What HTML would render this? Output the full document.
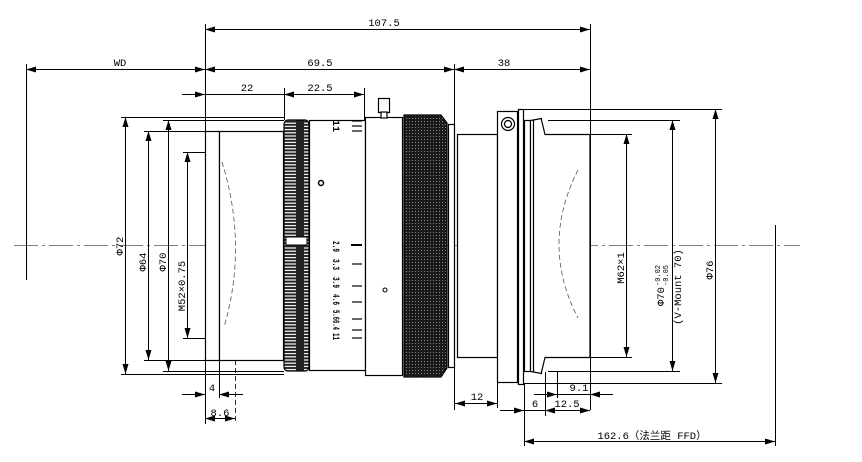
<!DOCTYPE html>
<html><head><meta charset="utf-8"><style>
html,body{margin:0;padding:0;background:#fff;}
svg{display:block;}
text{font-family:"Liberation Mono","Noto Sans CJK SC",monospace;font-size:10.5px;fill:#000;}
</style></head><body>
<svg width="862" height="462" viewBox="0 0 862 462" xmlns="http://www.w3.org/2000/svg">
<defs>
<marker id="a" viewBox="0 0 10 6" refX="10" refY="3" markerWidth="10" markerHeight="6" orient="auto-start-reverse" markerUnits="userSpaceOnUse"><path d="M0,0L10,3L0,6z" fill="#000"/></marker>
<pattern id="k1" width="25" height="3.2" patternUnits="userSpaceOnUse"><rect width="25" height="3.2" fill="#222"/><rect x="4" y="1" width="17" height="1.2" fill="#fff"/></pattern>
<pattern id="k2" width="3" height="3" patternUnits="userSpaceOnUse"><rect width="3" height="3" fill="#1a1a1a"/><rect x="1" y="1" width="1" height="1" fill="#888"/></pattern>
</defs>
<g stroke="#000" fill="none" stroke-width="1">
<line x1="14" y1="245.5" x2="800" y2="245.5" stroke="#555" stroke-dasharray="24,4,3,4" stroke-width="0.8"/>
<line x1="205.5" y1="24" x2="205.5" y2="424"/>
<line x1="590.5" y1="24" x2="590.5" y2="410"/>
<line x1="454.5" y1="64" x2="454.5" y2="410"/>
<line x1="26.5" y1="64" x2="26.5" y2="280"/>
<line x1="284.5" y1="88" x2="284.5" y2="120"/>
<line x1="364.5" y1="88" x2="364.5" y2="120"/>
<line x1="219.5" y1="360" x2="219.5" y2="398"/>
<line x1="235.5" y1="160" x2="235.5" y2="424" stroke-dasharray="5,3" stroke-width="0.8"/>
<line x1="497.5" y1="383" x2="497.5" y2="408"/>
<line x1="524.5" y1="384" x2="524.5" y2="446"/>
<line x1="545.5" y1="372" x2="545.5" y2="416"/>
<line x1="557.5" y1="372" x2="557.5" y2="398"/>
<line x1="775.5" y1="225" x2="775.5" y2="446"/>
<line x1="205" y1="29.5" x2="590" y2="29.5" marker-start="url(#a)" marker-end="url(#a)"/>
<line x1="26" y1="69.5" x2="205" y2="69.5" marker-start="url(#a)" marker-end="url(#a)"/>
<line x1="205" y1="69.5" x2="454" y2="69.5" marker-start="url(#a)" marker-end="url(#a)"/>
<line x1="454" y1="69.5" x2="590" y2="69.5" marker-start="url(#a)" marker-end="url(#a)"/>
<line x1="182" y1="94.5" x2="205" y2="94.5" marker-end="url(#a)"/>
<line x1="205" y1="94.5" x2="284" y2="94.5"/>
<line x1="284" y1="94.5" x2="364" y2="94.5" marker-start="url(#a)" marker-end="url(#a)"/>
<line x1="121" y1="117.5" x2="284" y2="117.5"/>
<line x1="121" y1="374.5" x2="284" y2="374.5"/>
<line x1="163" y1="120.5" x2="284" y2="120.5"/>
<line x1="163" y1="371.5" x2="284" y2="371.5"/>
<line x1="144" y1="131.5" x2="205" y2="131.5"/>
<line x1="144" y1="360.5" x2="205" y2="360.5"/>
<line x1="183" y1="152.5" x2="218" y2="152.5"/>
<line x1="183" y1="338.5" x2="218" y2="338.5"/>
<line x1="125.5" y1="117" x2="125.5" y2="374" marker-start="url(#a)" marker-end="url(#a)"/>
<line x1="148.5" y1="131" x2="148.5" y2="360" marker-start="url(#a)" marker-end="url(#a)"/>
<line x1="168.5" y1="120" x2="168.5" y2="371" marker-start="url(#a)" marker-end="url(#a)"/>
<line x1="187.5" y1="152" x2="187.5" y2="338" marker-start="url(#a)" marker-end="url(#a)"/>
<line x1="182" y1="394.5" x2="205" y2="394.5" marker-end="url(#a)"/>
<line x1="243" y1="394.5" x2="219" y2="394.5" marker-end="url(#a)"/>
<line x1="205" y1="418.5" x2="235" y2="418.5" marker-start="url(#a)" marker-end="url(#a)"/>
<line x1="455" y1="403.5" x2="497" y2="403.5" marker-start="url(#a)" marker-end="url(#a)"/>
<line x1="500" y1="410.5" x2="524" y2="410.5" marker-end="url(#a)"/>
<line x1="524" y1="410.5" x2="545" y2="410.5"/>
<line x1="545" y1="410.5" x2="590" y2="410.5" marker-start="url(#a)" marker-end="url(#a)"/>
<line x1="534" y1="394.5" x2="557" y2="394.5" marker-end="url(#a)"/>
<line x1="557" y1="394.5" x2="590" y2="394.5"/>
<line x1="613" y1="394.5" x2="590" y2="394.5" marker-end="url(#a)"/>
<line x1="524" y1="441.5" x2="775" y2="441.5" marker-start="url(#a)" marker-end="url(#a)"/>
<line x1="520" y1="109.5" x2="722" y2="109.5"/>
<line x1="520" y1="383.5" x2="722" y2="383.5"/>
<line x1="548" y1="120.5" x2="680" y2="120.5"/>
<line x1="548" y1="371.5" x2="680" y2="371.5"/>
<line x1="590" y1="134.5" x2="632" y2="134.5"/>
<line x1="590" y1="357.5" x2="632" y2="357.5"/>
<line x1="715.5" y1="109" x2="715.5" y2="383" marker-start="url(#a)" marker-end="url(#a)"/>
<line x1="672.5" y1="120" x2="672.5" y2="371" marker-start="url(#a)" marker-end="url(#a)"/>
<line x1="626.5" y1="134" x2="626.5" y2="357" marker-start="url(#a)" marker-end="url(#a)"/>
</g>
<g stroke="#000" stroke-width="1.2" fill="#fff">
<rect x="205.5" y="131.5" width="14" height="229"/>
<rect x="219.5" y="131.5" width="64" height="229"/>
<rect x="284" y="120" width="25" height="251" rx="4" fill="url(#k1)"/>
<rect x="309.5" y="120.5" width="56" height="250"/>
<rect x="365.5" y="117.5" width="37" height="258"/>
<rect x="378.5" y="98.5" width="11" height="14"/>
<rect x="381" y="112" width="6" height="6"/>
<path d="M404,115 L441,115 L447,123 L447,368 L441,377 L404,377 Z" fill="url(#k2)"/>
<rect x="448.5" y="124.5" width="6" height="243"/>
<rect x="457.5" y="134.5" width="40" height="223"/>
<rect x="497.5" y="111.5" width="20" height="271"/>
<rect x="518.5" y="109.5" width="5" height="275"/>
<rect x="524.5" y="120.5" width="6" height="251"/>
<path d="M530.5,120.5 L541.5,118.5 L541.5,120 L545,134.5 L590,134.5 L590,357.5 L545,357.5 L541.5,372 L541.5,373.5 L530.5,371.5Z"/>
<line x1="533.5" y1="120" x2="533.5" y2="372"/>
<circle cx="508" cy="124" r="6.5"/>
<circle cx="508" cy="124" r="3.5"/>
</g>
<rect x="286" y="237" width="21" height="8" fill="#fff" stroke="#000"/>
<g stroke="#555" fill="none" stroke-width="0.8" stroke-dasharray="5,3">
<path d="M222,162 Q248,246 224,327"/>
<path d="M578,170 Q540,245 578,318"/>
</g>
<g stroke="#000" stroke-width="1.2">
<line x1="351" y1="245" x2="362" y2="245" stroke-width="2"/>
<line x1="352" y1="264" x2="362" y2="264"/>
<line x1="352" y1="286" x2="362" y2="286"/>
<line x1="352" y1="302" x2="362" y2="302"/>
<line x1="352" y1="319" x2="362" y2="319"/>
<line x1="352" y1="330" x2="362" y2="330"/>
<line x1="352" y1="338" x2="362" y2="338"/>
<line x1="352" y1="121" x2="362" y2="121"/>
<line x1="352" y1="126" x2="362" y2="126"/>
<line x1="352" y1="131" x2="362" y2="131"/>
</g>
<circle cx="321" cy="183" r="2.5" fill="none" stroke="#000" stroke-width="1.5"/>
<circle cx="385" cy="290" r="2" fill="none" stroke="#000"/>
<g font-weight="bold" style="font-size:8px">
<text transform="translate(333,241) rotate(90)" textLength="11" lengthAdjust="spacingAndGlyphs">2.9</text>
<text transform="translate(333,259) rotate(90)" textLength="11" lengthAdjust="spacingAndGlyphs">3.3</text>
<text transform="translate(333,277) rotate(90)" textLength="11" lengthAdjust="spacingAndGlyphs">3.9</text>
<text transform="translate(333,294) rotate(90)" textLength="11" lengthAdjust="spacingAndGlyphs">4.6</text>
<text transform="translate(333,310) rotate(90)" textLength="20" lengthAdjust="spacingAndGlyphs">5.66.4</text>
<text transform="translate(333,333) rotate(90)" textLength="7" lengthAdjust="spacingAndGlyphs">11</text>
<text transform="translate(333,120) rotate(90)" textLength="12" lengthAdjust="spacingAndGlyphs">11</text>
</g>
<text x="384" y="26" text-anchor="middle">107.5</text>
<text x="120" y="66" text-anchor="middle">WD</text>
<text x="320" y="66" text-anchor="middle">69.5</text>
<text x="504" y="66" text-anchor="middle">38</text>
<text x="247" y="91" text-anchor="middle">22</text>
<text x="320" y="91" text-anchor="middle">22.5</text>
<text x="212" y="391" text-anchor="middle">4</text>
<text x="220" y="416" text-anchor="middle">8.6</text>
<text x="477" y="400" text-anchor="middle">12</text>
<text x="535" y="407" text-anchor="middle">6</text>
<text x="567" y="407" text-anchor="middle">12.5</text>
<text x="579" y="391" text-anchor="middle">9.1</text>
<text x="652" y="439" text-anchor="middle">162.6（法兰距 FFD）</text>
<text transform="translate(123,246) rotate(-90)" text-anchor="middle">Φ72</text>
<text transform="translate(146,262) rotate(-90)" text-anchor="middle">Φ64</text>
<text transform="translate(166,262) rotate(-90)" text-anchor="middle">Φ70</text>
<text transform="translate(185,286) rotate(-90)" text-anchor="middle">M52×0.75</text>
<text transform="translate(624,268) rotate(-90)" text-anchor="middle">M62×1</text>
<text transform="translate(664,306) rotate(-90)">Φ70</text>
<text transform="translate(660,286) rotate(-90)" style="font-size:7px">-0.02</text>
<text transform="translate(668,286) rotate(-90)" style="font-size:7px">-0.05</text>
<text transform="translate(681,287) rotate(-90)" text-anchor="middle">(V-Mount 70)</text>
<text transform="translate(713,270) rotate(-90)" text-anchor="middle">Φ76</text>
</svg>
</body></html>
